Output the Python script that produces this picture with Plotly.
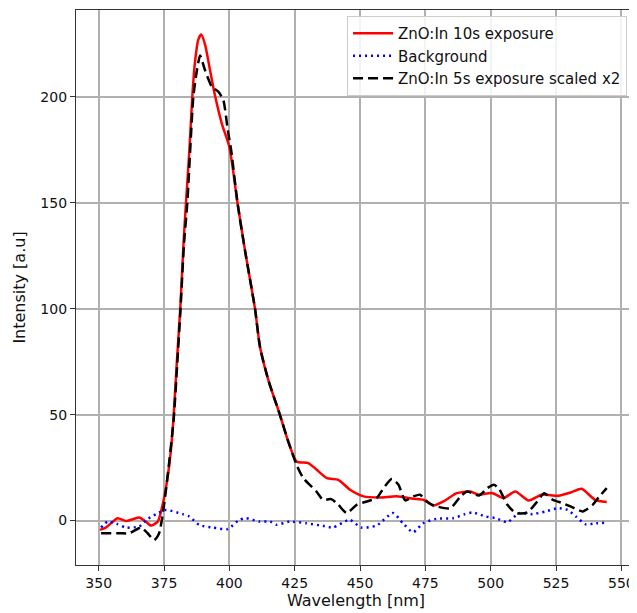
import plotly.graph_objects as go

# ZnO:In 10s exposure
x_red = [350.5, 352.5, 355, 357.2, 360.4, 363, 365.5, 368, 370, 372.6, 375, 376.5, 377.6, 378.7, 379.9,
         381.2, 382.5, 383.4, 384.7, 385.8, 386.8, 388.1, 389.2, 390.7, 392.6, 394.6, 397.1, 400, 403.1,
         406, 409.8, 411.7, 414.9, 419.3, 422.5, 425.7, 430.2, 433.4, 437.3, 441.7, 446.2, 451.3, 457.7,
         464, 470.4, 474.2, 478.1, 481.9, 487, 492.1, 495.4, 500.5, 504.9, 509.4, 514.5, 519.5, 525.9,
         531, 534.8, 539.9, 544.4]
y_red = [-4.4, -3.5, -1.0, 1.1, -0.2, 0.6, 1.4, -0.5, -2.4, -0.5, 10.6, 21.6, 33, 50, 75,
         100, 132, 150, 175, 200, 216, 227, 229.4, 224.7, 212.5, 200, 187.4, 176.3, 150,
         127.3, 100, 82, 66.3, 50, 37.4, 27.9, 27.1, 24, 20, 19.2, 14.5, 11.4, 10.9,
         11.4, 10.3, 9.8, 7.1, 9, 12.9, 13.7, 12.2, 13, 10.6, 13.7, 9.5, 12.2, 11.7,
         13.4, 15, 9.8, 8.7]

# Background
x_bg = [350.9, 353.4, 357.2, 360.4, 365.5, 368.5, 371.9, 375.7, 382.1, 384.6, 388.5, 393.6, 399.3, 403.8,
        406.4, 411.5, 415.6, 417.9, 423, 429.4, 435.8, 439.6, 446, 450.5, 456.3, 462.6, 466.4, 470.3,
        474.1, 479.2, 485.6, 490.1, 493, 498.1, 502, 506.4, 510.9, 516, 521.1, 525.6, 529.4, 532.6,
        536.4, 540.3, 544.4]
y_bg = [-3.3, -0.5, -1.7, -3.3, -2.8, 0.5, 3, 5, 3, 1.9, -2.1, -3.3, -4, 0.3,
        1.1, -0.5, -0.5, -2, -0.5, -1.3, -2.5, -3.3, 0.3, -3.3, -2.4, 3.5, -1.3, -5.5,
        -1.3, 0.8, 1.1, 3, 3.8, 1.9, 1.1, -0.8, 3.5, 3, 4.3, 5.8, 5, 1.9,
        -1.8, -1.3, -1]

# ZnO:In 5s exposure scaled x2
x_blk = [350.9, 357.9, 361.7, 366.2, 368.7, 371.2, 373.1, 375, 377, 378.7, 380, 381.3, 382.6, 383.9,
         386.2, 387.5, 388.8, 390.7, 393.3, 395.8, 397.7, 399.4, 400.7, 403.1, 406, 409.8, 411.7, 414.9,
         419.3, 422.5, 425.8, 428.3, 433.3, 435.8, 439, 441.7, 444.9, 448.7, 452.6, 456.4, 459, 462.2,
         464.7, 467.3, 470.4, 473, 475.6, 478.1, 484.5, 488.5, 491, 495.5, 498.7, 501.2, 503.2, 506.4,
         509.6, 514, 517.3, 520.5, 523.7, 527.5, 531.3, 535.2, 539, 541.6, 544.4]
y_blk = [-6, -6, -6, -3.3, -6, -9.2, -6, 7.4, 28, 48, 73, 100, 130, 150,
         200, 212, 219.5, 212.5, 204.8, 202.4, 198.4, 184.2, 174.6, 150, 127.3, 100, 82, 66.3,
         50, 37.4, 26, 20, 13.7, 9.8, 10.1, 7.4, 3.5, 7.4, 9, 10.6, 15.3, 19.7,
         16.9, 9.5, 11.4, 12.2, 9, 7.1, 5.8, 11.4, 13.7, 11.8, 15.3, 16.9, 15, 7.4,
         3.5, 3.8, 8.2, 12.9, 9.8, 8.2, 6.2, 4.3, 7.4, 11.4, 15.3]

x_ticks = [350, 375, 400, 425, 450, 475, 500, 525, 550]
y_ticks = [0, 50, 100, 150, 200]

FONT = "DejaVu Sans, Verdana, sans-serif"

fig = go.Figure()
fig.add_trace(go.Scatter(x=x_red, y=y_red, mode="lines", name="ZnO:In 10s exposure",
                         line=dict(color="#ff0000", width=2.5, shape="spline", smoothing=0.6)))
fig.add_trace(go.Scatter(x=x_bg, y=y_bg, mode="lines", name="Background",
                         line=dict(color="#0000ff", width=2.5, dash="2px,4px", shape="spline", smoothing=0.6)))
fig.add_trace(go.Scatter(x=x_blk, y=y_blk, mode="lines", name="ZnO:In 5s exposure scaled x2",
                         line=dict(color="#000000", width=2.5, dash="10px,5px", shape="spline", smoothing=0.6)))

axis_common = dict(
    showgrid=True, gridcolor="#b0b0b0", gridwidth=1.5,
    showline=True, linecolor="#333333", linewidth=1.2, mirror=True,
    ticks="outside", ticklen=5, tickwidth=1.2, tickcolor="#333333",
    zeroline=False, automargin=False, tickfont=dict(family=FONT, size=14, color="#111111"),
)

fig.update_xaxes(range=[341.3, 555.6], tickmode="array", tickvals=x_ticks,
                 title=dict(text="Wavelength [nm]", font=dict(family=FONT, size=16, color="#111111"), standoff=4),
                 **axis_common)
fig.update_yaxes(range=[-21.0, 241.0], tickmode="array", tickvals=y_ticks,
                 title=dict(text="Intensity [a.u]", font=dict(family=FONT, size=16, color="#111111"), standoff=10),
                 **axis_common)

# page body has an 8px default margin, so the figure is sized/offset to compensate
fig.update_layout(
    width=629, height=605,
    margin=dict(l=68, r=1, t=2, b=48),
    paper_bgcolor="white", plot_bgcolor="white",
    font=dict(family=FONT, size=14, color="#111111"),
    legend=dict(x=0.984, y=0.989, xanchor="right", yanchor="top",
                bgcolor="rgba(255,255,255,0.85)", bordercolor="#cccccc", borderwidth=1,
                font=dict(family=FONT, size=15), tracegroupgap=0, itemwidth=40),
    showlegend=True,
)

fig.write_html("out.html")
